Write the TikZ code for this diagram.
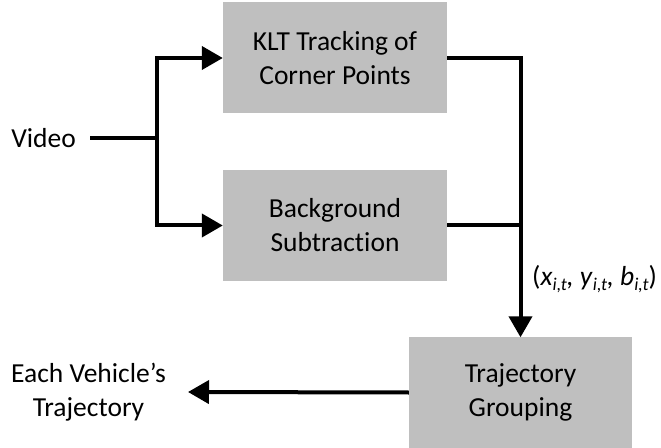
\documentclass[tikz,border=0pt]{standalone}
\usepackage{fontspec}
\setmainfont{Carlito}[Ligatures=NoCommon]
\usetikzlibrary{positioning, arrows.meta}
\definecolor{boxgray}{RGB}{191,191,191}
\newcommand{\idx}[1]{\raisebox{-5bp}{\fontsize{18bp}{18bp}\selectfont\itshape #1}}

\begin{document}
\begin{tikzpicture}[x=1bp, y=-1bp]
        % Styles
        \tikzstyle{block} = [fill=boxgray, draw=none, minimum width=224bp, minimum height=111bp, align=center, inner sep=0pt]
        \tikzstyle{txt} = [align=center, inner sep=0pt]
        \tikzstyle{line} = [draw, line width=4bp, black]
        \tikzstyle{arrow} = [line, -{Triangle[length=21bp, width=23bp]}]

        \fontsize{27.5bp}{34bp}\selectfont

        % Frame
        \useasboundingbox (0,0) rectangle (661,448);

        % Blocks
        \node[block] (klt) at (335,58) {KLT Tracking of\\Corner Points};
        \node[block] (bgs) at (335,225.5) {Background\\Subtraction};
        \node[block, minimum width=223bp, minimum height=110bp] (grp) at (520.5,392.5) {Trajectory\\Grouping};

        % Texts
        \node[txt, anchor=east] (video) at (76,138) {Video};
        \node[txt, anchor=east] (each) at (166,392) {Each Vehicle's\\Trajectory};
        \node[txt, anchor=west] (tuple) at (532,279) {(\textit{x}\idx{i,t}\textit{, y}\idx{i,t}\textit{, b}\idx{i,t})};
        \coordinate (fork) at (157,138);

        % Connections
        \draw[line] ([xshift=14bp]video.east) -- (fork);
        \draw[arrow] (fork) |- (klt.west);
        \draw[arrow] (fork) |- (bgs.west);
        \draw[line] (bgs.east) -- (bgs.east -| grp.north);
        \draw[arrow] (klt.east) -| (grp.north);
        \draw[arrow] (grp.west) -- ([xshift=22bp]each.east);

    \end{tikzpicture}
\end{document}
